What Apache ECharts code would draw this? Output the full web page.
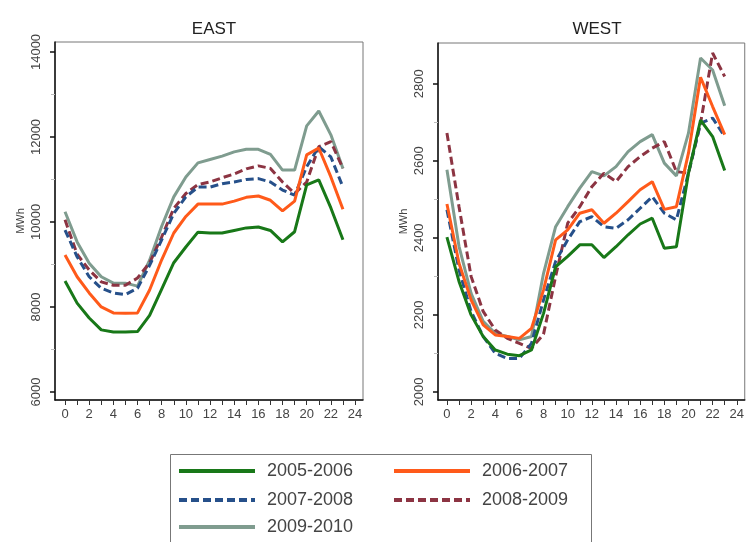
<!DOCTYPE html>
<html>
<head>
<meta charset="utf-8">
<script src="https://cdn.jsdelivr.net/npm/echarts@6/dist/echarts.min.js"></script>
<style>
  html, body { margin: 0; padding: 0; background: #fff; }
  #main { width: 747px; height: 542px; }
</style>
</head>
<body>
<div id="main"></div>
<script>
// hours of the day
const hours = [0,1,2,3,4,5,6,7,8,9,10,11,12,13,14,15,16,17,18,19,20,21,22,23]
const seasons = ['2005-2006', '2006-2007', '2007-2008', '2008-2009', '2009-2010']

// EAST, MWh
const east0506 = [8610,8090,7740,7460,7410,7410,7420,7800,8420,9040,9410,9760,9740,9740,9800,9860,9880,9800,9530,9770,10870,10990,10330,9580]
const east0607 = [9220,8710,8330,8000,7860,7850,7860,8400,9110,9740,10130,10420,10420,10420,10490,10580,10610,10510,10260,10490,11580,11740,11060,10300]
const east0708 = [9810,9180,8710,8440,8330,8290,8440,8980,9580,10200,10590,10820,10820,10900,10940,11000,11020,10940,10750,10630,11300,11770,11530,10820]
const east0809 = [10050,9240,8870,8590,8510,8510,8680,9040,9650,10320,10670,10880,10940,11040,11130,11250,11320,11260,10940,10670,10940,11770,11890,11260]
const east0910 = [10240,9530,9030,8710,8560,8560,8490,9100,9900,10590,11060,11390,11470,11550,11650,11710,11710,11590,11220,11220,12260,12610,12050,11260]

// WEST, MWh
const west0506 = [2402,2287,2200,2144,2109,2098,2094,2109,2204,2325,2352,2382,2382,2349,2377,2408,2436,2451,2373,2377,2568,2706,2663,2575]
const west0607 = [2488,2334,2239,2174,2148,2144,2139,2165,2265,2395,2421,2464,2473,2438,2464,2494,2525,2546,2474,2481,2620,2817,2741,2668]
const west0708 = [2473,2317,2209,2144,2100,2087,2087,2126,2239,2339,2395,2442,2455,2429,2425,2447,2477,2507,2464,2447,2568,2698,2711,2663]
const west0809 = [2672,2481,2300,2209,2161,2139,2126,2113,2150,2300,2438,2481,2533,2568,2546,2585,2611,2633,2650,2572,2568,2698,2880,2819]
const west0910 = [2577,2378,2256,2183,2152,2144,2135,2144,2308,2429,2481,2529,2572,2561,2585,2624,2650,2668,2594,2561,2672,2867,2836,2743]

// tick labels
const xTicks = [0,1,2,3,4,5,6,7,8,9,10,11,12,13,14,15,16,17,18,19,20,21,22,23,24]
const xLabels = [0,2,4,6,8,10,12,14,16,18,20,22,24]
const eastLabels = [6000,8000,10000,12000,14000]
const eastMinor = [7000,9000,11000,13000]
const westLabels = [2000,2200,2400,2600,2800]
const westMinor = [2100,2300,2500,2700]

const colors = ['#187818', '#ff5a1a', '#26508a', '#8c3442', '#7f9c8f']
const dashes = ['solid', 'solid', [8, 4], [8, 4], 'solid']
const fontFam = 'Liberation Sans, Arial, sans-serif'

const pairs = (vals) => vals.map((v, i) => [hours[i], v])

const chart = echarts.init(document.getElementById('main'), null, { renderer: 'canvas' })

function xAxisFor(gridIndex, min) {
  return {
    type: 'value', gridIndex: gridIndex, min: min, max: 24.66,
    axisLine: { show: true, onZero: false, lineStyle: { color: '#111', width: 1.5 } },
    axisTick: { show: true, length: 5, customValues: xTicks, lineStyle: { color: '#333' } },
    axisLabel: { customValues: xLabels, margin: 8, fontSize: 13, color: '#444', fontFamily: fontFam },
    splitLine: { show: false }
  }
}

function yMain(gridIndex, min, max, labels) {
  return {
    type: 'value', gridIndex: gridIndex, min: min, max: max,
    name: 'MWh', nameLocation: 'middle', nameGap: 29,
    nameTextStyle: { fontSize: 11, color: '#444', fontFamily: fontFam },
    axisLine: { show: true, onZero: false, lineStyle: { color: '#111', width: 1.5 } },
    axisTick: { show: true, length: 5, customValues: labels, lineStyle: { color: '#111', width: 1.5 } },
    axisLabel: {
      customValues: labels, rotate: 90, margin: 12, fontSize: 13, color: '#444', fontFamily: fontFam,
      formatter: (v) => String(v)
    },
    splitLine: { show: false }
  }
}

function yMinor(gridIndex, min, max, minor) {
  return {
    type: 'value', gridIndex: gridIndex, min: min, max: max, position: 'left',
    axisLine: { show: false, onZero: false },
    axisTick: { show: true, length: 4, customValues: minor, lineStyle: { color: '#bbb' } },
    axisLabel: { show: false },
    splitLine: { show: false }
  }
}

const eastData = [east0506, east0607, east0708, east0809, east0910]
const westData = [west0506, west0607, west0708, west0809, west0910]

let series = []
eastData.forEach((d, i) => {
  series.push({
    name: seasons[i], type: 'line', xAxisIndex: 0, yAxisIndex: 0,
    data: pairs(d), symbol: 'none', showSymbol: false, z: 10 - i,
    lineStyle: { color: colors[i], width: 3, type: dashes[i] }, itemStyle: { color: colors[i] }
  })
})
westData.forEach((d, i) => {
  series.push({
    name: seasons[i], type: 'line', xAxisIndex: 1, yAxisIndex: 2,
    data: pairs(d), symbol: 'none', showSymbol: false, z: 10 - i,
    lineStyle: { color: colors[i], width: 3, type: dashes[i] }, itemStyle: { color: colors[i] }
  })
})

// one legend per entry so the two-column box lines up
const legendPos = [[177, 462], [392, 462], [177, 491], [392, 491], [177, 518]]
const legends = seasons.map((s, i) => ({
  data: [s], left: legendPos[i][0], top: legendPos[i][1], padding: 0,
  itemWidth: 76, itemHeight: 16, selectedMode: false,
  lineStyle: { width: 4 },
  itemStyle: { opacity: 0 },
  textStyle: { fontSize: 18, color: '#444', fontFamily: fontFam, padding: [0, 0, 0, 7] }
}))

const option = {
  backgroundColor: '#fff',
  animation: false,
  title: [
    { text: 'EAST', left: 209, top: 16, textAlign: 'center', textStyle: { fontSize: 17, fontWeight: 'normal', color: '#222', fontFamily: fontFam } },
    { text: 'WEST', left: 592, top: 16, textAlign: 'center', textStyle: { fontSize: 17, fontWeight: 'normal', color: '#222', fontFamily: fontFam } }
  ],
  grid: [
    { left: 55, top: 42, width: 308, height: 358, show: true, borderColor: '#777', borderWidth: 1 },
    { left: 438, top: 43, width: 308, height: 357, show: true, borderColor: '#777', borderWidth: 1 }
  ],
  xAxis: [xAxisFor(0, -0.83), xAxisFor(1, -0.74)],
  yAxis: [
    yMain(0, 5810, 14235, eastLabels),
    yMinor(0, 5810, 14235, eastMinor),
    yMain(1, 1979, 2906, westLabels),
    yMinor(1, 1979, 2906, westMinor)
  ],
  legend: legends,
  graphic: [{
    type: 'rect', left: 168, top: 452, silent: true,
    shape: { width: 421, height: 100 },
    style: { fill: 'none', stroke: '#777', lineWidth: 1 }
  }],
  series: series
}

chart.setOption(option)
</script>
</body>
</html>
